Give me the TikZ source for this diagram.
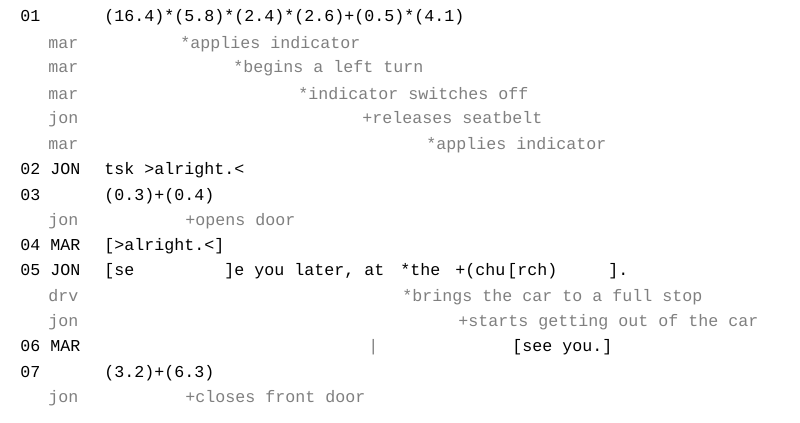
\documentclass[tikz,border=0pt]{standalone}
\usepackage{fontspec}
\setmonofont{Liberation Mono}
\definecolor{dimgrey}{HTML}{7F7F7F}
\begin{document}
\begin{tikzpicture}[x=0.5pt,y=-0.5pt,
  txt/.style={anchor=base west,inner sep=0pt,font=\ttfamily\fontsize{8.33}{10}\selectfont},
  talk/.style={txt,color=black},
  act/.style={txt,color=dimgrey}]
\useasboundingbox (0,0) rectangle (800,423);

% line 01
\node[talk] (n01) at (20,22) {01};
\node[talk] (p01) at (104,22) {(16.4)*(5.8)*(2.4)*(2.6)+(0.5)*(4.1)};
\node[act] (s1) at (48,48) {mar};
\node[act] (a1) at (180,48) {*applies indicator};
\node[act] (s2) at (48,73) {mar};
\node[act] (a2) at (233,73) {*begins a left turn};
\node[act] (s3) at (48,99) {mar};
\node[act] (a3) at (298,99) {*indicator switches off};
\node[act] (s4) at (48,124) {jon};
\node[act] (a4) at (362,124) {+releases seatbelt};
\node[act] (s5) at (48,149) {mar};
\node[act] (a5) at (426,149) {*applies indicator};

% line 02
\node[talk] (n02) at (20,175) {02 JON};
\node[talk] (t02) at (104,175) {tsk >alright.<};

% line 03
\node[talk] (n03) at (20,200) {03};
\node[talk] (p03) at (104,200) {(0.3)+(0.4)};
\node[act] (s6) at (48,225) {jon};
\node[act] (a6) at (185,225) {+opens door};

% line 04
\node[talk] (n04) at (20,250) {04 MAR};
\node[talk] (t04) at (104,250) {[>alright.<]};

% line 05
\node[talk] (n05) at (20,275) {05 JON};
\node[talk] (t05a) at (104,275) {[se};
\node[talk] (t05b) at (224,275) {]e you later, at};
\node[talk] (t05c) at (400,275) {*the};
\node[talk] (t05d) at (455,275) {+(chu};
\node[talk] (t05e) at (507,275) {[rch)};
\node[talk] (t05f) at (608,275) {].};
\node[act] (s7) at (48,301) {drv};
\node[act] (a7) at (402,301) {*brings the car to a full stop};
\node[act] (s8) at (48,326) {jon};
\node[act] (a8) at (458,326) {+starts getting out of the car};

% line 06
\node[talk] (n06) at (20,351) {06 MAR};
\node[act] (bar) at (368,351) {|};
\node[talk] (t06) at (512,351) {[see you.]};

% line 07
\node[talk] (n07) at (20,377) {07};
\node[talk] (p07) at (104,377) {(3.2)+(6.3)};
\node[act] (s9) at (48,402) {jon};
\node[act] (a9) at (185,402) {+closes front door};
\end{tikzpicture}
\end{document}
